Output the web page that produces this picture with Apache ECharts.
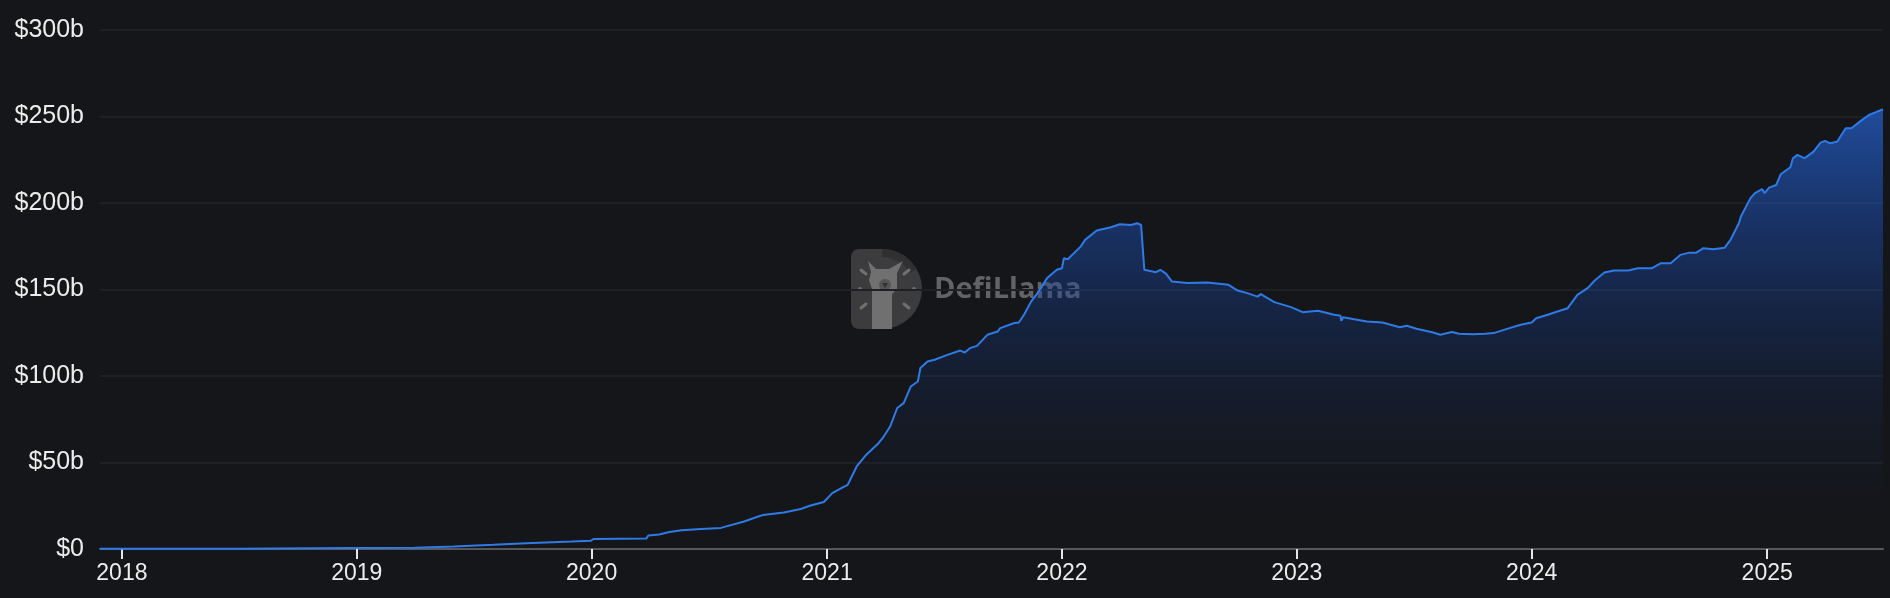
<!DOCTYPE html>
<html>
<head>
<meta charset="utf-8">
<script src="https://cdn.jsdelivr.net/npm/echarts@6/dist/echarts.min.js"></script>
<style>
  html, body { margin: 0; padding: 0; background: #151619; }
  #chart { width: 1890px; height: 598px; }
</style>
</head>
<body>
<div id="chart"></div>
<script>
// Dates of observations
const dates = [
  '2017-11-28','2018-03-01','2018-07-01','2018-10-15','2019-01-01','2019-04-01','2019-06-01','2019-08-01',
  '2019-10-01','2019-12-01','2019-12-31','2020-01-04','2020-03-26','2020-03-29','2020-04-15','2020-05-01',
  '2020-05-20','2020-06-19','2020-07-20','2020-08-25','2020-09-16','2020-09-23','2020-10-26','2020-11-21',
  '2020-12-05','2020-12-27','2021-01-09','2021-01-26','2021-02-02','2021-02-16','2021-03-03','2021-03-21',
  '2021-03-30','2021-04-09','2021-04-20','2021-04-30','2021-05-11','2021-05-22','2021-05-26','2021-06-06',
  '2021-06-17','2021-07-07','2021-07-27','2021-08-03','2021-08-11','2021-08-22','2021-09-07','2021-09-23',
  '2021-09-27','2021-10-19','2021-10-26','2021-11-03','2021-11-14','2021-11-24','2021-12-09','2021-12-24',
  '2022-01-01','2022-01-04','2022-01-10','2022-01-30','2022-02-06','2022-02-24','2022-03-18','2022-04-01',
  '2022-04-18','2022-04-28','2022-05-04','2022-05-09','2022-05-27','2022-06-03','2022-06-12','2022-06-21',
  '2022-07-15','2022-08-15','2022-09-17','2022-10-01','2022-10-16','2022-11-01','2022-11-06','2022-11-27',
  '2022-12-23','2023-01-10','2023-02-03','2023-02-28','2023-03-10','2023-03-11','2023-03-14','2023-03-29',
  '2023-04-20','2023-05-14','2023-06-10','2023-06-21','2023-07-06','2023-08-01','2023-08-12','2023-08-30',
  '2023-09-10','2023-10-02','2023-10-20','2023-11-03','2023-11-25','2023-12-15','2024-01-01','2024-01-08',
  '2024-01-26','2024-02-10','2024-02-26','2024-03-12','2024-03-28','2024-04-08','2024-04-23','2024-05-08',
  '2024-05-30','2024-06-14','2024-07-06','2024-07-20','2024-08-04','2024-08-19','2024-09-02','2024-09-13',
  '2024-09-24','2024-10-09','2024-10-27','2024-11-05','2024-11-18','2024-11-21','2024-12-06','2024-12-13',
  '2024-12-24','2024-12-28','2025-01-04','2025-01-15','2025-01-22','2025-02-06','2025-02-10','2025-02-17',
  '2025-02-28','2025-03-14','2025-03-25','2025-04-01','2025-04-09','2025-04-20','2025-05-03','2025-05-12',
  '2025-05-27','2025-06-08','2025-06-17','2025-06-30'
];
// Values in billions of USD
const values = [
  0.1,0.1,0.2,0.5,0.6,0.7,1.5,2.4,
  3.4,4.3,4.8,5.8,6.0,7.8,8.4,9.8,
  10.8,11.6,12.2,15.9,18.8,19.6,21.1,23.1,
  25.0,27.2,32.3,35.8,37.1,47.7,54.5,60.8,
  65.0,70.8,81.5,84.3,93.9,96.8,104.6,108.4,
  109.4,112.2,114.7,113.6,116.1,117.4,123.8,125.7,
  127.7,130.6,130.9,135.4,143.0,147.9,156.6,161.4,
  162.3,168.1,167.5,174.8,178.7,184.1,186.0,187.7,
  187.3,188.3,187.3,161.4,160.0,161.4,159.0,154.6,
  153.7,154.0,152.7,149.4,147.9,145.9,147.3,142.7,
  139.8,136.9,137.7,135.4,134.8,131.9,134.0,132.9,
  131.5,130.9,128.2,129.0,127.3,125.1,123.8,125.4,
  124.4,124.2,124.4,124.8,127.4,129.6,130.9,133.4,
  135.4,137.3,139.2,146.9,150.8,155.2,159.8,161.0,
  161.0,162.3,162.3,165.2,165.2,170.0,171.3,171.3,
  173.9,173.3,174.2,178.7,188.3,192.1,202.8,205.7,
  208.0,205.7,208.9,210.4,216.6,220.7,225.9,227.8,
  225.9,229.7,234.9,235.9,234.5,235.5,243.2,243.2,
  247.6,250.9,252.2,254.2
];
// Y-axis ticks (billions)
const yTicks = [0, 50, 100, 150, 200, 250, 300];

const seriesData = dates.map((d, i) => [d, values[i]]);

const chart = echarts.init(document.getElementById('chart'), null, { renderer: 'canvas' });

const dash = (x1, y1, x2, y2) => ({ type: 'line', shape: { x1, y1, x2, y2 }, style: { stroke: '#707070', lineWidth: 3, lineCap: 'round' } });

const option = {
  backgroundColor: '#151619',
  animation: false,
  grid: { left: 100, right: 7, top: 30, bottom: 49, containLabel: false },
  xAxis: {
    type: 'time',
    min: 'dataMin',
    max: 'dataMax',
    minInterval: 365 * 24 * 3600 * 1000,
    maxInterval: 366 * 24 * 3600 * 1000,
    axisLine: { show: true, lineStyle: { color: '#58595c', width: 2 } },
    axisTick: { show: true, length: 10, lineStyle: { color: '#e6e6e6', width: 2 } },
    splitLine: { show: false },
    axisLabel: {
      color: '#ececec',
      fontSize: 23,
      fontFamily: 'Liberation Sans, Arial, sans-serif',
      margin: 13,
      showMinLabel: false,
      showMaxLabel: false,
      formatter: function (v) { return String(new Date(v).getFullYear()); }
    }
  },
  yAxis: {
    type: 'value',
    min: yTicks[0],
    max: yTicks[yTicks.length - 1],
    interval: 50,
    axisLine: { show: false },
    axisTick: { show: false },
    splitLine: { show: true, lineStyle: { color: '#1f2024', width: 2 } },
    axisLabel: {
      color: '#ececec',
      fontSize: 25,
      fontFamily: 'Liberation Sans, Arial, sans-serif',
      margin: 16,
      formatter: function (v) { return v === 0 ? '$0' : '$' + v + 'b'; }
    }
  },
  series: [{
    type: 'line',
    data: seriesData,
    showSymbol: false,
    symbol: 'none',
    smooth: false,
    z: 2,
    lineStyle: { color: '#2f7be6', width: 2 },
    areaStyle: {
      color: {
        type: 'linear', x: 0, y: 0, x2: 0, y2: 1,
        colorStops: [
          { offset: 0, color: 'rgba(37,99,212,1)' },
          { offset: 0.4, color: 'rgba(24,68,160,0.55)' },
          { offset: 1, color: 'rgba(16,18,24,0.05)' }
        ]
      }
    }
  }],
  graphic: [{
    type: 'group',
    z: 100,
    silent: true,
    children: [
      { type: 'rect', shape: { x: 851, y: 249, width: 32, height: 80, r: [8, 0, 0, 8] }, style: { fill: '#3c3c3e' } },
      { type: 'sector', shape: { cx: 882, cy: 289, r0: 0, r: 40, startAngle: -Math.PI / 2, endAngle: Math.PI / 2, clockwise: true }, style: { fill: '#3c3c3e' } },
      { type: 'sector', shape: { cx: 882, cy: 289, r0: 32, r: 40, startAngle: -Math.PI / 2, endAngle: -Math.PI / 6, clockwise: true }, style: { fill: '#303032' } },
      { type: 'polygon', shape: { points: [[868,261],[876,269],[889,269],[903,261],[897,273],[897,289],[892,294],[892,329],[872,329],[872,289],[869,280],[871,272]] },
        style: { fill: '#707070' } },
      { type: 'circle', shape: { cx: 885, cy: 285, r: 6 }, style: { fill: '#555555' } },
      { type: 'polygon', shape: { points: [[882,283],[888,283],[885,288]] }, style: { fill: '#333333' } },
      dash(861, 270, 866, 274),
      { type: 'circle', shape: { cx: 860, cy: 289, r: 2 }, style: { fill: '#707070' } },
      dash(861, 308, 866, 304),
      dash(904, 274, 909, 270),
      { type: 'circle', shape: { cx: 914, cy: 289, r: 2 }, style: { fill: '#707070' } },
      dash(904, 304, 909, 308),
      { type: 'text', x: 934, y: 290,
        style: { text: 'DefiLlama', fill: 'rgba(118,118,122,0.8)', font: 'bold 29px "Open Sans", sans-serif', verticalAlign: 'middle' } }
    ]
  }]
};

chart.setOption(option);
</script>
</body>
</html>
